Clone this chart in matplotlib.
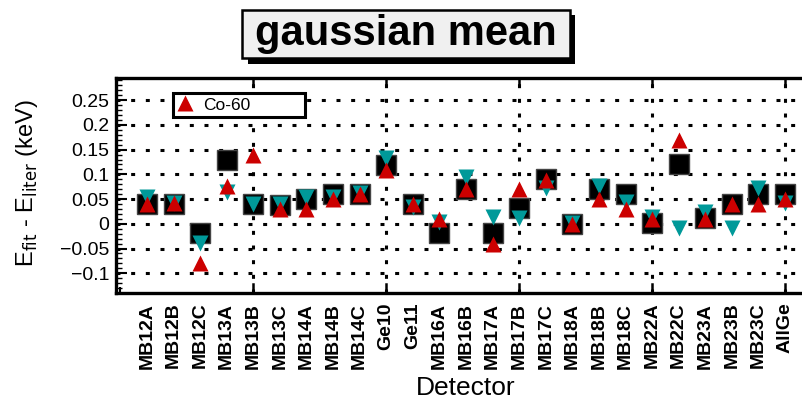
import matplotlib
matplotlib.use("Agg")
import matplotlib.pyplot as plt
from matplotlib.patches import Rectangle
from matplotlib.ticker import MultipleLocator
import numpy as np

plt.rcParams['font.family'] = ['Liberation Sans', 'DejaVu Sans']

detectors = ["MB12A", "MB12B", "MB12C", "MB13A", "MB13B", "MB13C", "MB14A", "MB14B",
             "MB14C", "Ge10", "Ge11", "MB16A", "MB16B", "MB17A", "MB17B", "MB17C",
             "MB18A", "MB18B", "MB18C", "MB22A", "MB22C", "MB23A", "MB23B", "MB23C", "AllGe"]
black_sq = [0.041, 0.041, -0.019, 0.130, 0.040, 0.039, 0.050, 0.061, 0.060, 0.118,
            0.041, -0.019, 0.071, -0.019, 0.031, 0.091, -0.001, 0.071, 0.061, 0.001,
            0.121, 0.011, 0.041, 0.061, 0.061]
teal_down = [0.055, 0.043, -0.039, 0.064, 0.041, 0.040, 0.054, 0.054, 0.063, 0.134,
             0.033, 0.003, 0.094, 0.014, 0.012, 0.072, 0.001, 0.077, 0.044, 0.014,
             -0.008, 0.024, -0.008, 0.073, 0.042]
co60 = [0.040, 0.042, -0.080, 0.077, 0.140, 0.030, 0.030, 0.050, 0.060, 0.109,
        0.040, 0.010, 0.070, -0.040, 0.070, 0.089, -0.001, 0.050, 0.030, 0.010,
        0.169, 0.010, 0.040, 0.040, 0.050]
y_ticks = [-0.1, -0.05, 0, 0.05, 0.1, 0.15, 0.2, 0.25]
y_ticklabels = ['\u22120.1', '\u22120.05', '0', '0.05', '0.1', '0.15', '0.2', '0.25']

W, H = 802, 419
fig = plt.figure(figsize=(W / 100, H / 100), dpi=100)
ax = fig.add_axes([116 / W, (H - 293) / H, (816 - 116) / W, (293 - 78) / H])

x = np.arange(1, len(detectors) + 1)
ax.plot(x, black_sq, ls='none', marker='s', ms=15, mfc='black', mec='#444444', mew=1, zorder=3)
ax.plot(x, teal_down, ls='none', marker='v', ms=11, mfc='#009999', mec='none', zorder=4)
ax.plot(x, co60, ls='none', marker='^', ms=11, mfc='#cc0000', mec='none', zorder=5, label='Co-60')

ax.set_xlim(-0.165, 26.165)
ax.set_ylim(-0.14, 0.295)

ax.set_xticks(x)
ax.set_xticklabels(detectors, rotation=90, fontweight='bold', fontsize=14)
ax.xaxis.set_minor_locator(MultipleLocator(1))
ax.yaxis.set_minor_locator(MultipleLocator(0.01))
ax.set_yticks(y_ticks)
ax.set_yticklabels(y_ticklabels, fontsize=14)

ax.tick_params(axis='x', which='major', direction='in', length=0, pad=7)
ax.tick_params(axis='x', which='minor', direction='in', length=4, width=1.5)
ax.tick_params(axis='y', which='major', direction='in', length=8, width=1.5, pad=5,
               right=True)
ax.tick_params(axis='y', which='minor', direction='in', length=4, width=1, right=True)

grid_ls = (0, (1.3, 3.5))
for xv in [5, 10, 15, 20, 25]:
    ax.axvline(xv, color='black', lw=2.2, ls=grid_ls, zorder=1)
    ax.plot([xv, xv], [-0.14, -0.14 + 0.018], color='black', lw=1.8, clip_on=False, zorder=2)
    ax.plot([xv, xv], [0.295, 0.295 - 0.012], color='black', lw=1.8, clip_on=False, zorder=2)
for yv in y_ticks:
    ax.axhline(yv, color='black', lw=2.2, ls=grid_ls, zorder=1)

for s in ax.spines.values():
    s.set_linewidth(2.4)

ax.set_xlabel('Detector', fontsize=19, labelpad=5)
ax.set_ylabel(r'E$_{\rm fit}$ - E$_{\rm liter}$ (keV)', fontsize=17)
ax.yaxis.set_label_coords(-(116 - 40) / 700, 0.51)

leg = ax.legend(loc='upper left', bbox_to_anchor=(0.081, 0.93, 0.189, 0.0), mode='expand',
                fontsize=12.5, frameon=True, fancybox=False, handlelength=0.9,
                handletextpad=0.6, borderpad=0.25, borderaxespad=0, framealpha=1)
leg.get_frame().set_edgecolor('black')
leg.get_frame().set_linewidth(2.2)

def fx(px):
    return px / W
def fy(py):
    return 1 - py / H
fig.patches.append(Rectangle((fx(248), fy(64)), fx(575) - fx(248), fy(15) - fy(64),
                             transform=fig.transFigure, facecolor='black', edgecolor='none', zorder=1))
fig.patches.append(Rectangle((fx(242), fy(58)), fx(570) - fx(242), fy(10) - fy(58),
                             transform=fig.transFigure, facecolor='#f0f0f0', edgecolor='black',
                             lw=1.8, zorder=2))
fig.text(fx(406), fy(34), 'gaussian mean', ha='center', va='center', fontsize=30,
         fontweight='bold', zorder=3)

fig.savefig('out.png', dpi=100)
